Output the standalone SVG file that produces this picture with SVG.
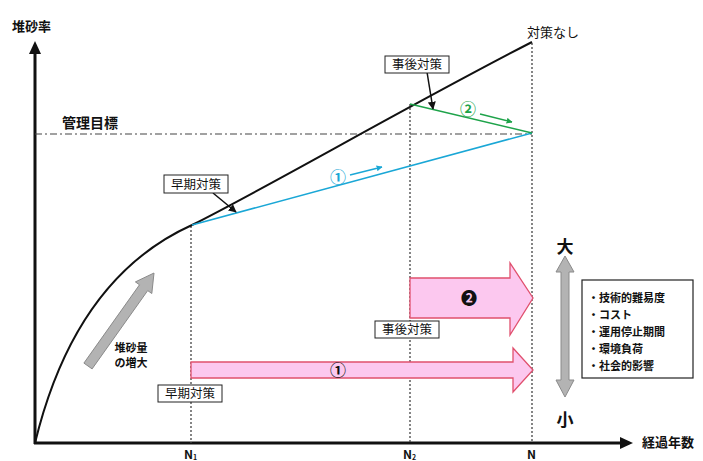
<svg xmlns="http://www.w3.org/2000/svg" width="703" height="461" viewBox="0 0 703 461">
<defs>
<style>
.t{font-family:"Noto Sans CJK JP","Noto Sans CJK SC",sans-serif;fill:#111}
.b{font-weight:bold}
.lbl{fill:#fff;stroke:#222;stroke-width:1}
.dot{stroke:#444;stroke-width:1.3;stroke-dasharray:2,2;fill:none}
.pink{fill:#fcc8ef;stroke:#e0506e;stroke-width:1.3}
.gray{fill:#b3b3b3;stroke:#8a8a8a;stroke-width:1}
</style>
<marker id="ah" viewBox="0 0 10 10" refX="9" refY="5" markerWidth="8" markerHeight="8" orient="auto" markerUnits="userSpaceOnUse"><path d="M0,0L10,5L0,10z" fill="#111"/></marker>
<marker id="ahc" viewBox="0 0 10 10" refX="9" refY="5" markerWidth="6" markerHeight="6" orient="auto" markerUnits="userSpaceOnUse"><path d="M0,0L10,5L0,10z" fill="#1aa7d6"/></marker>
<marker id="ahg" viewBox="0 0 10 10" refX="9" refY="5" markerWidth="6" markerHeight="6" orient="auto" markerUnits="userSpaceOnUse"><path d="M0,0L10,5L0,10z" fill="#1ea34a"/></marker>
</defs>
<rect width="703" height="461" fill="#fff"/>

<g id="axes">
<line x1="35" y1="444" x2="35" y2="52" stroke="#111" stroke-width="3"/>
<path d="M35,41 L29,54 L41,54z" fill="#111"/>
<line x1="34" y1="443" x2="622" y2="443" stroke="#111" stroke-width="3"/>
<path d="M633,443 L620,437 L620,449z" fill="#111"/>
<text class="t b" x="12" y="31" font-size="13">堆砂率</text>
<text class="t b" x="642" y="447" font-size="13">経過年数</text>
<text class="t b" x="184" y="459" font-size="12">N<tspan font-size="7" dy="1">1</tspan></text>
<text class="t b" x="403" y="459" font-size="12">N<tspan font-size="7" dy="1">2</tspan></text>
<text class="t b" x="527" y="459" font-size="12">N</text>
</g>

<g id="target">
<line x1="35" y1="134" x2="532" y2="134" stroke="#444" stroke-width="1.2" stroke-dasharray="7,3,2,3"/>
<text class="t b" x="62" y="128" font-size="14">管理目標</text>
</g>

<g id="guides">
<line class="dot" x1="191" y1="226" x2="191" y2="443"/>
<line class="dot" x1="410" y1="104" x2="410" y2="443"/>
<line class="dot" x1="532" y1="43" x2="532" y2="443"/>
</g>

<g id="curve">
<path d="M35,443 C60,340 110,262 192,225 C270,186 400,110 532,42" fill="none" stroke="#111" stroke-width="2"/>
<text class="t" x="527" y="37" font-size="13">対策なし</text>
</g>

<g id="connectors">
<line x1="192" y1="225" x2="532" y2="133" stroke="#1aa7d6" stroke-width="1.6"/>
<line x1="410" y1="104" x2="532" y2="133" stroke="#1ea34a" stroke-width="1.6"/>
<line x1="350" y1="175" x2="382" y2="167" stroke="#1aa7d6" stroke-width="1.5" marker-end="url(#ahc)"/>
<line x1="480" y1="114" x2="512" y2="122" stroke="#1ea34a" stroke-width="1.5" marker-end="url(#ahg)"/>
<line x1="427" y1="72" x2="433" y2="109" stroke="#111" stroke-width="1.5" marker-end="url(#ah)"/>
<line x1="213" y1="193" x2="236" y2="212" stroke="#111" stroke-width="1.5" marker-end="url(#ah)"/>
</g>

<g id="label1">
<text x="338" y="183" font-size="16" fill="#1aa7d6" text-anchor="middle" font-family="Noto Sans CJK JP,sans-serif" font-weight="bold">①</text>
</g>
<g id="label2">
<text x="468" y="115" font-size="16" fill="#1ea34a" text-anchor="middle" font-family="Noto Sans CJK JP,sans-serif" font-weight="bold">②</text>
</g>

<g id="jigo-top">
<rect class="lbl" x="385" y="56" width="64" height="17"/>
<text class="t" x="417" y="69" font-size="12.5" text-anchor="middle">事後対策</text>
</g>
<g id="souki-top">
<rect class="lbl" x="164" y="175" width="64" height="18"/>
<text class="t" x="196" y="189" font-size="12.5" text-anchor="middle">早期対策</text>
</g>

<g id="increase">
<path class="gray" d="M83.9,363.1 L139.5,284.8 L135.4,281.9 L154,273 L151.8,293.5 L147.7,290.6 L92.1,368.9 Z"/>
<text class="t b" x="131" y="352" font-size="11" text-anchor="middle">堆砂量</text>
<text class="t b" x="131" y="367" font-size="11" text-anchor="middle">の増大</text>
</g>

<g id="arrow2">
<path class="pink" d="M410,278 L510,278 L510,263 L533,298 L510,335 L510,318 L410,318 Z"/>
<text x="469" y="304" font-size="16" fill="#111" text-anchor="middle" font-family="Noto Sans CJK JP,sans-serif" font-weight="bold">❷</text>
</g>
<g id="jigo-bottom">
<rect class="lbl" x="375" y="321" width="64" height="17"/>
<text class="t" x="407" y="334" font-size="12.5" text-anchor="middle">事後対策</text>
</g>

<g id="arrow1">
<path class="pink" d="M191,362 L513,362 L513,348 L533,370 L513,392 L513,378 L191,378 Z"/>
<text x="338" y="376" font-size="16" fill="#111" text-anchor="middle" font-family="Noto Sans CJK JP,sans-serif" font-weight="bold">①</text>
</g>
<g id="souki-bottom">
<rect class="lbl" x="158" y="385" width="64" height="17"/>
<text class="t" x="190" y="398" font-size="12.5" text-anchor="middle">早期対策</text>
</g>

<g id="scale">
<path class="gray" d="M565,256 L574,272 L569,272 L569,380 L574,380 L565,397 L556,380 L561,380 L561,272 L556,272 Z"/>
<text class="t b" x="565" y="253" font-size="17" text-anchor="middle">大</text>
<text class="t b" x="565" y="426" font-size="17" text-anchor="middle">小</text>
</g>

<g id="factors">
<rect x="582" y="280" width="111" height="98" fill="#fff" stroke="#222" stroke-width="1.2"/>
<text class="t b" x="588" y="302" font-size="11">・技術的難易度</text>
<text class="t b" x="588" y="319" font-size="11">・コスト</text>
<text class="t b" x="588" y="336" font-size="11">・運用停止期間</text>
<text class="t b" x="588" y="353" font-size="11">・環境負荷</text>
<text class="t b" x="588" y="370" font-size="11">・社会的影響</text>
</g>
</svg>
